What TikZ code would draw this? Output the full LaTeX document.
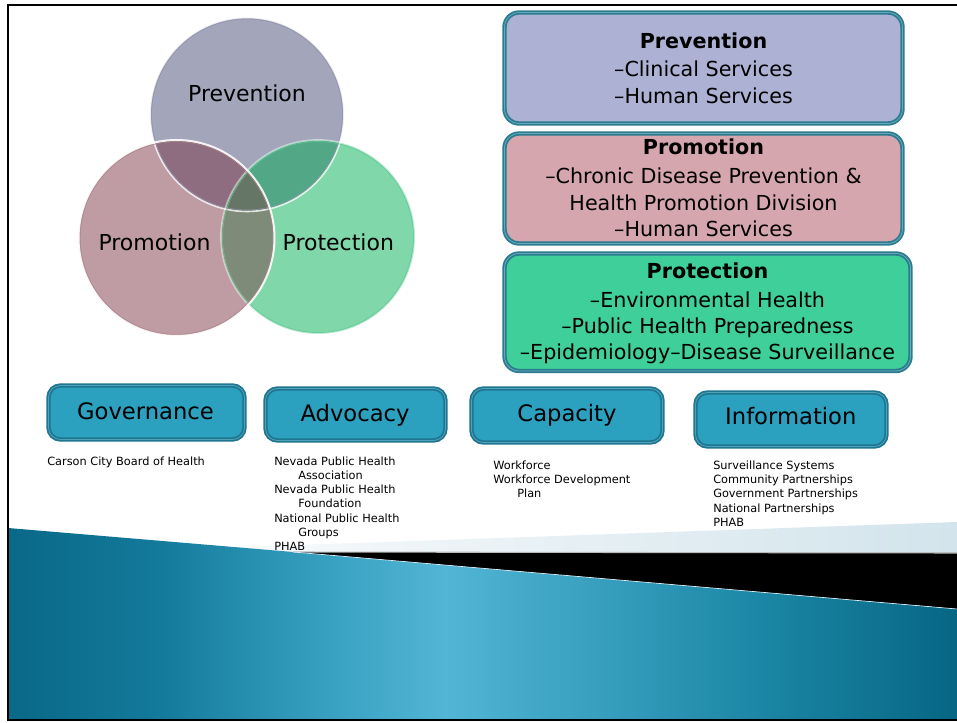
\documentclass[tikz,border=0pt]{standalone}
\usepackage{fontspec}
\setmainfont{DejaVu Sans}
\usetikzlibrary{fit}
\definecolor{prevc}{HTML}{A3A5BA}
\definecolor{promc}{HTML}{BF9CA3}
\definecolor{protc}{HTML}{80D8AA}
\definecolor{prevprom}{HTML}{8E6D80}
\definecolor{prevprot}{HTML}{52A886}
\definecolor{promprot}{HTML}{7F8B79}
\definecolor{allc}{HTML}{667666}
\definecolor{prevedge}{HTML}{8F91AC}
\definecolor{promedge}{HTML}{A9838B}
\definecolor{protedge}{HTML}{5FC793}
\definecolor{prevbox}{HTML}{ADB1D3}
\definecolor{prombox}{HTML}{D6A6AE}
\definecolor{protbox}{HTML}{3ECF9A}
\definecolor{boxedge}{HTML}{2B7C90}
\definecolor{boxgap}{HTML}{68A8B8}
\definecolor{tealfill}{HTML}{2CA0BF}
\definecolor{tealedge}{HTML}{1F7690}
\definecolor{tealgap}{HTML}{4FA2B9}
\definecolor{bluedark}{HTML}{0A6888}
\definecolor{bluea}{HTML}{137A9B}
\definecolor{blueb}{HTML}{38A1C2}
\definecolor{bluelight}{HTML}{52B5D5}
\definecolor{bluec}{HTML}{3BA2C2}
\definecolor{blued}{HTML}{1A85A4}
\definecolor{bluedarkr}{HTML}{076684}
\definecolor{wedgec}{HTML}{D3E4EC}
\pgfdeclarehorizontalshading{bluesh}{100bp}{color(0bp)=(bluedark); color(25bp)=(bluedark); color(33bp)=(bluea); color(42bp)=(blueb); color(48bp)=(bluelight); color(55bp)=(bluec); color(65bp)=(blued); color(75bp)=(bluedarkr); color(100bp)=(bluedarkr)}
\begin{document}
\begin{tikzpicture}[x=0.75pt,y=-0.75pt,
  vlabel/.style={font=\fontsize{16.5}{20}\selectfont, anchor=base, inner sep=0},
  boxtitle/.style={font=\bfseries\fontsize{15.5}{19}\selectfont, anchor=base, inner sep=0},
  boxline/.style={font=\fontsize{15.5}{19}\selectfont, anchor=base, inner sep=0},
  bigbox/.style={draw=boxedge, double=boxgap, double distance=0.6pt, line width=1.35pt, rounded corners=11pt, inner sep=0},
  smallbox/.style={draw=tealedge, double=tealgap, double distance=0.6pt, line width=1.35pt, rounded corners=9pt, fill=tealfill, inner sep=0},
  pillar/.style={font=\fontsize{17}{20}\selectfont, anchor=base, inner sep=0},
  smalltext/.style={font=\fontsize{8.5}{10}\selectfont, anchor=base west, inner sep=0},
  frameline/.style={line width=1.6pt, black},
]
\useasboundingbox (0,0) rectangle (957,723);
\fill[white] (0,0) rectangle (957,723);

% ---------- bottom decoration ----------
\coordinate (wl) at (70,553);
\coordinate (wr) at (957,522);
\coordinate (br) at (957,553);
\shade[left color=white, right color=wedgec] (wl) -- (wr) -- (br) -- cycle;
\coordinate (btl) at (8,528);
\coordinate (bj) at (293,552);
\coordinate (btr) at (957,609);
\coordinate (bbr) at (957,720);
\coordinate (bbl) at (8,720);
\shade[shading=bluesh] (btl) -- (bj) -- (btr) -- (bbr) -- (bbl) -- cycle;
\fill[black] (bj) -- (br) -- (btr) -- cycle;
\draw[gray!55, line width=0.8pt] (bj) -- (br);
\draw[white!85!cyan, line width=0.5pt] (bj) -- (btr);

% ---------- frame ----------
\coordinate (ftr) at (957,5);
\coordinate (ftl) at (8,5);
\coordinate (fbl) at (8,720);
\coordinate (fbr) at (957,720);
\draw[frameline] (ftr) -- (ftl) -- (fbl) -- (fbr);

% ---------- Venn ----------
\coordinate (cprev) at (247,114.5);
\coordinate (cprom) at (176.5,238);
\coordinate (cprot) at (318,237);
\def\rprev{72.75pt}
\def\rprom{73.5pt}
\def\rprot{72.75pt}
\fill[prevc] (cprev) circle[radius=\rprev];
\fill[promc] (cprom) circle[radius=\rprom];
\fill[protc] (cprot) circle[radius=\rprot];
\begin{scope}
  \clip (cprev) circle[radius=\rprev];
  \fill[prevprom] (cprom) circle[radius=\rprom];
  \fill[prevprot] (cprot) circle[radius=\rprot];
\end{scope}
\begin{scope}
  \clip (cprom) circle[radius=\rprom];
  \fill[promprot] (cprot) circle[radius=\rprot];
  \clip (cprot) circle[radius=\rprot];
  \fill[allc] (cprev) circle[radius=\rprev];
\end{scope}
% outlines
\draw[white, line width=1.2pt, opacity=0.8] (cprev) circle[radius=\rprev];
\draw[prevedge, line width=0.35pt] (cprev) circle[radius=\rprev-1.2pt];
\draw[white, line width=1.3pt, opacity=0.5] (cprot) circle[radius=\rprot];
\draw[protedge, line width=0.35pt] (cprot) circle[radius=\rprot-1.2pt];
\draw[white, line width=1.5pt, opacity=0.9] (cprom) circle[radius=\rprom];
\draw[promedge, line width=0.35pt] (cprom) circle[radius=\rprom-1.3pt];
\node[vlabel] (lprev) at (247,101.7) {Prevention};
\node[vlabel] (lprom) at (154.5,250.7) {Promotion};
\node[vlabel] (lprot) at (338.3,250.7) {Protection};

% ---------- right boxes ----------
\node[bigbox, fill=prevbox, fit={(504.5,12.5) (902.5,123.5)}] (bprev) {};
\node[boxtitle] (tprev) at (703.5,48.3) {Prevention};
\node[boxline] (tprev1) at (703.5,76.7) {–Clinical Services};
\node[boxline] (tprev2) at (703.5,103.3) {–Human Services};

\node[bigbox, fill=prombox, fit={(504.5,133.5) (902.5,243.5)}] (bprom) {};
\node[boxtitle] (tprom) at (703.5,155) {Promotion};
\node[boxline] (tprom1) at (703.5,183.3) {–Chronic Disease Prevention \&};
\node[boxline] (tprom2) at (703.5,210.7) {Health Promotion Division};
\node[boxline] (tprom3) at (703.5,236.7) {–Human Services};

\node[bigbox, fill=protbox, fit={(504.5,253.5) (910.5,371)}] (bprot) {};
\node[boxtitle] (tprot) at (707.5,278.3) {Protection};
\node[boxline] (tprot1) at (707.5,307.3) {–Environmental Health};
\node[boxline] (tprot2) at (707.5,334) {–Public Health Preparedness};
\node[boxline] (tprot3) at (707.5,359.3) {–Epidemiology–Disease Surveillance};

% ---------- bottom boxes ----------
\node[smallbox, fit={(48.5,385.5) (244.5,439.5)}] (bgov) {};
\node[pillar] (tgov) at (145.5,420) {Governance};
\node[smallbox, fit={(265.5,388.5) (445.5,440.5)}] (badv) {};
\node[pillar] (tadv) at (355,421.7) {Advocacy};
\node[smallbox, fit={(471.5,388.5) (662.5,442.5)}] (bcap) {};
\node[pillar] (tcap) at (567,421.7) {Capacity};
\node[smallbox, fit={(695.5,392.5) (886.5,446.5)}] (binf) {};
\node[pillar] (tinf) at (790.8,425) {Information};

% ---------- small lists ----------
\node[smalltext] (g1) at (47,465) {Carson City Board of Health};

\node[smalltext] (a1) at (274,465) {Nevada Public Health};
\node[smalltext] (a2) at (298,479.3) {Association};
\node[smalltext] (a3) at (274,493.6) {Nevada Public Health};
\node[smalltext] (a4) at (298,507.9) {Foundation};
\node[smalltext] (a5) at (274,522.2) {National Public Health};
\node[smalltext] (a6) at (298,536.5) {Groups};
\node[smalltext] (a7) at (274,550.8) {PHAB};

\node[smalltext] (c1) at (493,469.3) {Workforce};
\node[smalltext] (c2) at (493,483.4) {Workforce Development};
\node[smalltext] (c3) at (517,497.5) {Plan};

\node[smalltext] (i1) at (713,469.3) {Surveillance Systems};
\node[smalltext] (i2) at (713,483.6) {Community Partnerships};
\node[smalltext] (i3) at (713,497.9) {Government Partnerships};
\node[smalltext] (i4) at (713,512.2) {National Partnerships};
\node[smalltext] (i5) at (713,526.5) {PHAB};
\end{tikzpicture}
\end{document}
